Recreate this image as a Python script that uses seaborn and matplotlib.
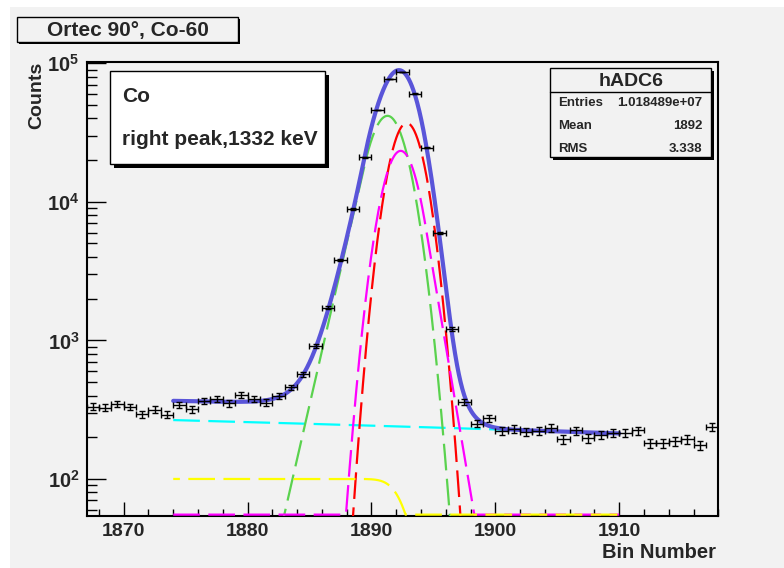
import numpy as np
import matplotlib
matplotlib.use("Agg")
import matplotlib.pyplot as plt
import seaborn as sns
from matplotlib.patches import Rectangle
from matplotlib.ticker import FixedLocator, NullFormatter, LogLocator, MultipleLocator
from math import erfc

# ---------------- data ----------------
bin_start = 1867
counts = [333, 327, 349, 330, 292, 316, 291, 343, 319, 364, 378, 352, 405, 377, 356,
          400, 458, 571, 914, 1718, 3830, 8890, 21000, 45900, 76700, 86500, 60400,
          24500, 5970, 1208, 359, 251, 275, 221, 231, 218, 222, 233, 193, 224, 196,
          207, 215, 215, 224, 182, 182, 188, 194, 175, 237]
fit_range = [1874, 1910]
# fit components (parameters)
green_par = dict(A=41700, mu=1891.3, sL=1.45, sR=1.38, k=1.3)       # gaussian with low tail
red_par = dict(A=37000, mu=1892.85, s=1.2)                           # gaussian
magenta_par = dict(A=23300, mu=1892.36, sL=1.27, sR=1.27, k=1.55)    # gaussian with high tail
step_par = dict(H=100, mu=1892.9, s=1.15)                            # erfc step
bkg_par = dict(b0=266, slope=-1.47, x0=1874)                         # linear background

title = "Ortec 90\u00b0, Co-60"
stats_name = "hADC6"
stats_rows = [("Entries", "1.018489e+07"), ("Mean", "1892"), ("RMS", "3.338")]
note_lines = ["Co", "right peak,1332 keV"]
xlabel = "Bin Number"
ylabel = "Counts"
ytick_vals = [1e2, 1e3, 1e4, 1e5]
ytick_labels = [r'$10^{2}$', r'$10^{3}$', r'$10^{4}$', r'$10^{5}$']
xlim = (1867, 1918)
ylim = (54.3, 1.02e5)

# ---------------- model functions ----------------
def gauss(x, A, mu, s):
    return A * np.exp(-(x - mu) ** 2 / (2 * s ** 2))

def gauss_tail_left(x, A, mu, sL, sR, k):
    t = x - mu
    core = np.where(t >= 0, np.exp(-t ** 2 / (2 * sR ** 2)), np.exp(-t ** 2 / (2 * sL ** 2)))
    tail = np.exp(k ** 2 / 2 + k * t / sL)
    return A * np.where(t >= -k * sL, core, tail)

def gauss_tail_right(x, A, mu, sL, sR, k):
    t = x - mu
    core = np.where(t >= 0, np.exp(-t ** 2 / (2 * sR ** 2)), np.exp(-t ** 2 / (2 * sL ** 2)))
    tail = np.exp(k ** 2 / 2 - k * t / sR)
    return A * np.where(t <= k * sR, core, tail)

def step(x, H, mu, s):
    return H * 0.5 * np.array([erfc((xi - mu) / (np.sqrt(2) * s)) for xi in x])

def bkg(x, b0, slope, x0):
    return b0 + slope * (x - x0)

xf = np.linspace(fit_range[0], fit_range[1], 1500)
g = gauss_tail_left(xf, **green_par)
r = gauss(xf, **red_par)
m = gauss_tail_right(xf, **magenta_par)
y_step = step(xf, **step_par)
b = bkg(xf, **bkg_par)
total = g + r + m + y_step + b

centers = bin_start + 0.5 + np.arange(len(counts))
counts_arr = np.array(counts, dtype=float)

# ---------------- figure ----------------
W, H = 784, 568
sns.set_style("ticks")
plt.rcParams['font.family'] = ['Liberation Sans', 'DejaVu Sans']
plt.rcParams['font.weight'] = 'bold'
plt.rcParams['mathtext.fontset'] = 'custom'
plt.rcParams['mathtext.rm'] = 'Liberation Sans:bold'
plt.rcParams['mathtext.bf'] = 'Liberation Sans:bold'
plt.rcParams['mathtext.it'] = 'Liberation Sans:bold'

BG = '#f2f2f2'
fig = plt.figure(figsize=(W / 100, H / 100), dpi=100, facecolor='white')

def fx(px):
    return px / W

def fy(py):
    return 1 - py / H

# canvas gray area
fig.add_artist(Rectangle((fx(10), 0), 1 - fx(10), fy(7),
                         transform=fig.transFigure, facecolor=BG, edgecolor='none', zorder=0))

ax_l, ax_r, ax_t, ax_b = 86.5, 718.3, 62, 515.7
ax = fig.add_axes([fx(ax_l), fy(ax_b), fx(ax_r - ax_l), (ax_b - ax_t) / H])
ax.set_facecolor(BG)
ax.set_yscale('log')
ax.set_xlim(*xlim)
ax.set_ylim(*ylim)

lw_d = 1.6
dash = (12, 3.8)
floor = ylim[0] * 1.018
sns.lineplot(x=xf, y=b, ax=ax, color='#00ffff', lw=lw_d, zorder=3).lines[-1].set_dashes(dash)
sns.lineplot(x=xf, y=g, ax=ax, color='#5ad24e', lw=lw_d, zorder=4).lines[-1].set_dashes(dash)
sns.lineplot(x=xf, y=r, ax=ax, color='#ff0000', lw=lw_d, zorder=5).lines[-1].set_dashes(dash)
sns.lineplot(x=xf, y=np.maximum(m, floor), ax=ax, color='#ff00ff', lw=lw_d, zorder=6).lines[-1].set_dashes(dash)
sns.lineplot(x=xf, y=np.maximum(y_step, floor), ax=ax, color='#ffff00', lw=lw_d, zorder=7)
ax.lines[-1].set_linestyle((9, dash))
sns.lineplot(x=xf, y=total, ax=ax, color='#5a55d9', lw=3.0, zorder=8)

ax.errorbar(centers, counts_arr, xerr=0.5, yerr=np.sqrt(counts_arr), fmt='none',
            ecolor='black', elinewidth=1.0, capsize=2.0, capthick=1.0, zorder=9)

# axes styling
for sp in ['top', 'right', 'left', 'bottom']:
    ax.spines[sp].set_visible(True)
    ax.spines[sp].set_linewidth(1.5)
    ax.spines[sp].set_color('black')
ax.xaxis.set_major_locator(MultipleLocator(10))
ax.xaxis.set_minor_locator(MultipleLocator(2))
ax.yaxis.set_major_locator(FixedLocator(ytick_vals))
ax.yaxis.set_minor_locator(LogLocator(base=10, subs=np.arange(2, 10)))
ax.yaxis.set_minor_formatter(NullFormatter())
ax.set_yticklabels(ytick_labels)
ax.tick_params(axis='both', which='both', direction='in', top=False, right=False, color='black')
ax.tick_params(axis='x', which='major', length=10, width=1.0, labelsize=14, pad=5)
ax.tick_params(axis='x', which='minor', length=5, width=1.0)
ax.tick_params(axis='y', which='major', length=14, width=1.0, labelsize=14.5, pad=5)
ax.tick_params(axis='y', which='minor', length=7, width=1.0)
for lab in ax.get_xticklabels():
    lab.set_fontweight('bold')
ax.set_xlabel('')
ax.set_ylabel('')

fig.text(fx(716), fy(553), xlabel, ha='right', va='center', fontsize=14.5, fontweight='bold')
fig.text(fx(37), fy(62), ylabel, ha='center', va='top', rotation=90, fontsize=14, fontweight='bold')

def box(x0, y0, x1, y1, face, shadow=3, lw=1.0, z=20):
    if shadow:
        fig.add_artist(Rectangle((fx(x0 + shadow), fy(y1 + shadow)), fx(x1 - x0), (y1 - y0) / H,
                                 transform=fig.transFigure, facecolor='black', edgecolor='none', zorder=z))
    fig.add_artist(Rectangle((fx(x0), fy(y1)), fx(x1 - x0), (y1 - y0) / H,
                             transform=fig.transFigure, facecolor=face, edgecolor='black', lw=lw, zorder=z + 1))

# title box
box(17, 17, 238, 42, BG, shadow=2)
fig.text(fx(127.5), fy(30.5), title, ha='center', va='center', fontsize=15, fontweight='bold', zorder=30)

# note box
box(110, 71, 325, 164, 'white', shadow=4)
fig.text(fx(122), fy(96), note_lines[0], ha='left', va='center', fontsize=15, fontweight='bold', zorder=30)
fig.text(fx(122), fy(139), note_lines[1], ha='left', va='center', fontsize=15, fontweight='bold', zorder=30)

# stats box
box(550, 68, 711, 157, BG, shadow=3)
fig.add_artist(plt.Line2D([fx(550), fx(711)], [fy(91.5), fy(91.5)], transform=fig.transFigure,
                          color='black', lw=1.0, zorder=25))
fig.text(fx(631), fy(81), stats_name, ha='center', va='center', fontsize=14, fontweight='bold', zorder=30)
for (lab, val), yy in zip(stats_rows, [103, 126, 149]):
    fig.text(fx(558), fy(yy), lab, ha='left', va='center', fontsize=9.5, fontweight='bold', zorder=30)
    fig.text(fx(702), fy(yy), val, ha='right', va='center', fontsize=9.5, fontweight='bold', zorder=30)

fig.savefig('out.png', dpi=100, facecolor='white')
